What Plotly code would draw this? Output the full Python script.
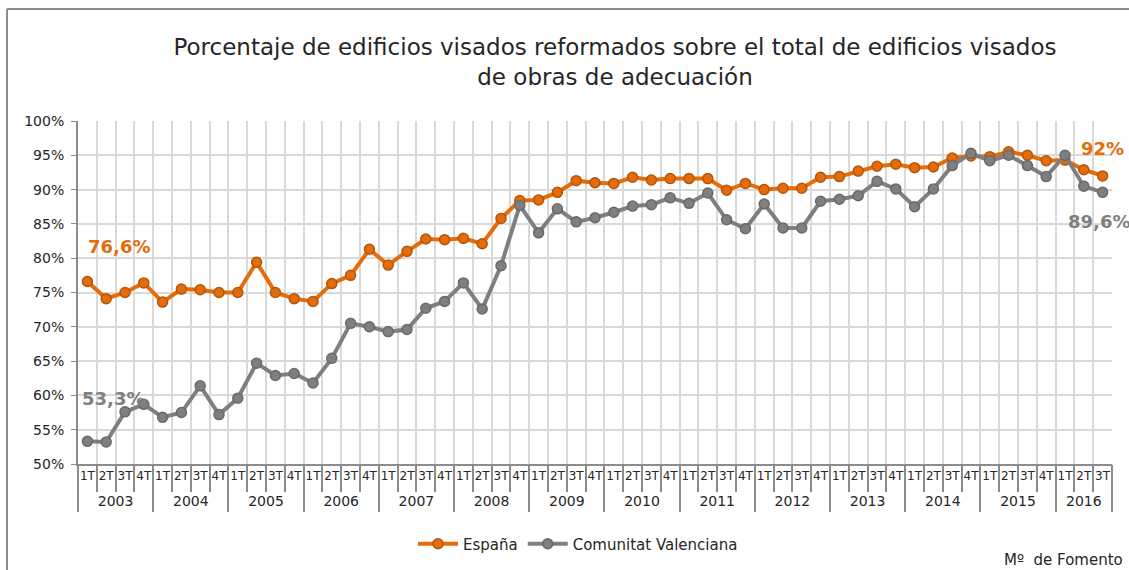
import plotly.graph_objects as go

# Quarterly series, 2003 1T - 2016 3T (percent)
years = ["2003", "2004", "2005", "2006", "2007", "2008", "2009",
         "2010", "2011", "2012", "2013", "2014", "2015", "2016"]
quarters = ["1T", "2T", "3T", "4T"]

espana = [76.6, 74.1, 75.0, 76.4, 73.6, 75.5, 75.4, 75.0,
          75.0, 79.4, 75.0, 74.1, 73.7, 76.3, 77.5, 81.3,
          79.0, 81.0, 82.8, 82.7, 82.9, 82.1, 85.8, 88.4,
          88.5, 89.6, 91.3, 91.0, 90.9, 91.8, 91.4, 91.6,
          91.6, 91.6, 89.9, 90.9, 90.0, 90.2, 90.2, 91.8,
          91.9, 92.7, 93.4, 93.7, 93.2, 93.3, 94.6, 94.9,
          94.8, 95.5, 95.0, 94.2, 94.3, 92.9, 92.0]

valencia = [53.3, 53.2, 57.6, 58.7, 56.8, 57.5, 61.4, 57.2,
            59.6, 64.7, 62.9, 63.2, 61.8, 65.4, 70.5, 70.0,
            69.3, 69.6, 72.7, 73.7, 76.4, 72.6, 78.9, 87.7,
            83.7, 87.2, 85.3, 85.9, 86.7, 87.6, 87.8, 88.8,
            88.0, 89.5, 85.6, 84.3, 87.9, 84.4, 84.4, 88.3,
            88.6, 89.1, 91.2, 90.1, 87.5, 90.1, 93.5, 95.3,
            94.2, 95.0, 93.5, 91.9, 95.0, 90.5, 89.6]

n = len(espana)
# One category per quarter, e.g. "2003 1T"
periods = [f"{years[i // 4]} {quarters[i % 4]}" for i in range(n)]
quarter_text = [quarters[i % 4] for i in range(n)]
# Serial position of each quarter (same scale as the category axis)
period_index = list(range(n))

# Year groups on the second axis row: centre position and boundaries
year_centers, year_bounds = [], [-0.5]
for k, yr in enumerate(years):
    first = 4 * k
    last = min(first + 3, n - 1)
    year_centers.append((first + last) / 2)
    year_bounds.append(last + 0.5)

ORANGE = "#E46C0A"
ORANGE_EDGE = "#B4560C"
GREY = "#7F7F7F"
GREY_EDGE = "#6A6A6A"
AXIS = "#8C8C8C"
GRID = "#D9D9D9"
FONT = "DejaVu Sans"
TEXT = "#262626"

# Canvas and plot-area geometry (pixels)
W, H = 1129, 570
ML, MR, MT, MB = 78, 17, 121, 106
PW, PH = W - ML - MR, H - MT - MB


def px(xp):
    return (xp - ML) / PW


def py(yp):
    return (H - MB - yp) / PH


fig = go.Figure()
fig.add_trace(go.Scatter(
    x=periods, y=espana, name="España", mode="lines+markers",
    line=dict(color=ORANGE, width=4),
    marker=dict(size=10, color=ORANGE, line=dict(color=ORANGE_EDGE, width=1.5)),
))
# Second series sits on the overlaid year axis (same positions), drawn on top
fig.add_trace(go.Scatter(
    x=period_index, y=valencia, name="Comunitat Valenciana", mode="lines+markers",
    xaxis="x2", text=periods, hoverinfo="text+y",
    line=dict(color=GREY, width=4),
    marker=dict(size=10, color=GREY, line=dict(color=GREY_EDGE, width=1.5)),
))

# End-point value labels
labels = [
    dict(x=0, y=espana[0], text=f"{espana[0]:.1f}%".replace(".", ","),
         color=ORANGE, xanchor="left", xshift=-1, yshift=35),
    dict(x=0, y=valencia[0], text=f"{valencia[0]:.1f}%".replace(".", ","),
         color=GREY, xanchor="left", xshift=-7, yshift=43),
    dict(x=n - 1, y=espana[-1], text=f"{espana[-1]:g}%".replace(".", ","),
         color=ORANGE, xanchor="center", xshift=0, yshift=27),
    dict(x=n - 1, y=valencia[-1], text=f"{valencia[-1]:.1f}%".replace(".", ","),
         color=GREY, xanchor="center", xshift=-4, yshift=-29),
]
for lb in labels:
    fig.add_annotation(
        x=lb["x"], y=lb["y"], xref="x", yref="y", text=f"<b>{lb['text']}</b>",
        showarrow=False, xanchor=lb["xanchor"], yanchor="middle",
        xshift=lb["xshift"], yshift=lb["yshift"],
        font=dict(family=FONT, size=18, color=lb["color"]),
    )

fig.add_annotation(
    x=px(1125), y=py(560), xref="paper", yref="paper", text="Mº  de Fomento",
    showarrow=False, xanchor="right", yanchor="middle",
    font=dict(family=FONT, size=15, color=TEXT),
)

# Outer chart frame (left and top edges)
frame = dict(color=AXIS, width=2)
fig.add_shape(type="line", xref="paper", yref="paper",
              x0=px(7), x1=px(7), y0=py(9), y1=py(575), line=frame)
fig.add_shape(type="line", xref="paper", yref="paper",
              x0=px(7), x1=px(1135), y0=py(9), y1=py(9), line=frame)

fig.update_layout(
    width=W, height=H, autosize=False,
    margin=dict(l=ML, r=MR, t=MT, b=MB, autoexpand=False),
    paper_bgcolor="white", plot_bgcolor="white",
    font=dict(family=FONT, color=TEXT),
    title=dict(
        text="Porcentaje de edificios visados reformados sobre el total de edificios visados<br>de obras de adecuación",
        x=615 / W, xanchor="center", y=1 - 55 / H, yanchor="top",
        font=dict(family=FONT, size=23, color=TEXT),
    ),
    showlegend=True,
    legend=dict(orientation="h", x=px(578), xanchor="center", y=py(544), yanchor="middle",
                font=dict(family=FONT, size=15, color=TEXT), itemwidth=40),
    # Quarter row
    xaxis=dict(
        type="category", range=[-0.5, n - 0.5], tickson="boundaries",
        tickmode="array", tickvals=periods, ticktext=quarter_text, tickangle=0,
        showgrid=True, gridcolor=GRID, gridwidth=1.5,
        ticks="outside", ticklen=26, tickcolor=AXIS, tickwidth=1.5,
        showline=True, linecolor=AXIS, linewidth=2,
        tickfont=dict(family=FONT, size=12, color=TEXT),
        zeroline=False,
    ),
    # Year row with group dividers
    xaxis2=dict(
        overlaying="x", anchor="y", side="bottom", type="linear",
        range=[-0.5, n - 0.5], tickmode="array",
        tickvals=year_centers, ticktext=years, ticks="", ticklabelstandoff=27,
        showgrid=False, showline=False, zeroline=False,
        tickfont=dict(family=FONT, size=14, color=TEXT),
        minor=dict(tickmode="array", tickvals=year_bounds, ticks="outside",
                   ticklen=47, tickwidth=2, tickcolor=AXIS, showgrid=False),
    ),
    yaxis=dict(
        range=[50, 100], dtick=5, ticksuffix="%",
        showgrid=True, gridcolor=GRID, gridwidth=1.5,
        ticks="outside", ticklen=5, tickcolor=AXIS, ticklabelstandoff=4,
        showline=True, linecolor=AXIS, linewidth=2,
        tickfont=dict(family=FONT, size=14, color=TEXT),
        zeroline=False,
    ),
)

fig.write_html("out.html")
